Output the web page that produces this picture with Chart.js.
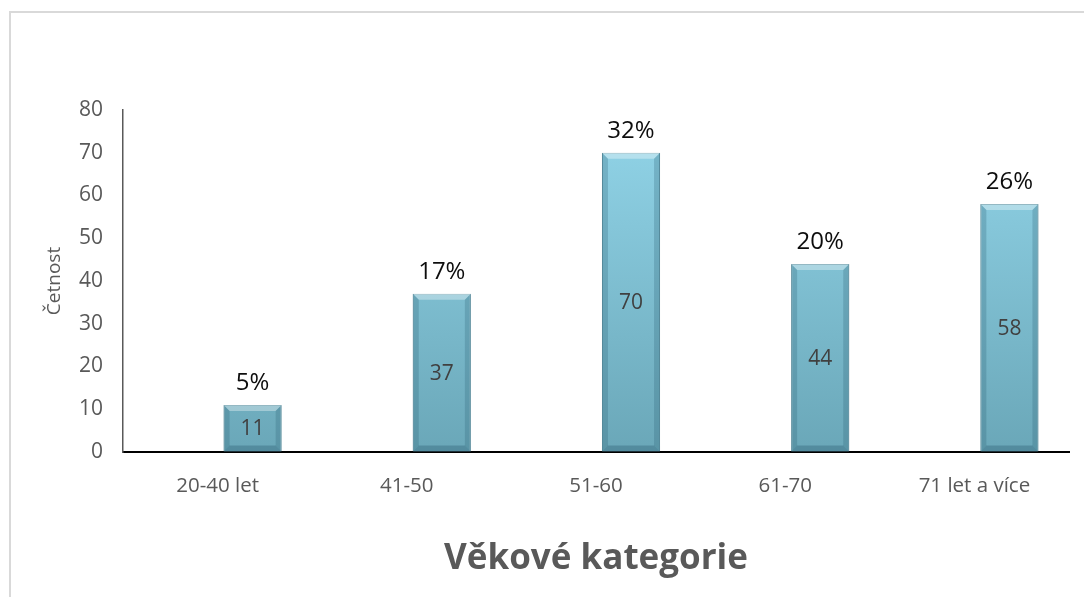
<!DOCTYPE html>
<html>
<head>
<meta charset="utf-8">
<script src="https://cdn.jsdelivr.net/npm/chart.js@4/dist/chart.umd.min.js"></script>
<style>
  html, body { margin: 0; padding: 0; background: #fff; overflow: hidden; }
  #frame { position: absolute; left: 9px; top: 11px; width: 1200px; height: 800px;
           border-top: 2px solid #d9d9d9; border-left: 2px solid #d9d9d9; }
  #wrap { position: absolute; left: 0; top: 0; width: 1084px; height: 597px; }
</style>
</head>
<body>
<div id="frame"></div>
<div id="wrap"><canvas id="myChart"></canvas></div>
<script>
const CATEGORIES = ['20-40 let', '41-50', '51-60', '61-70', '71 let a více'];
const SHARES = [0.05, 0.17, 0.32, 0.20, 0.26];
const COUNTS = [11, 37, 70, 44, 58];
const PERCENT_LABELS = ['5%', '17%', '32%', '20%', '26%'];
const Y_TICKS = [0, 10, 20, 30, 40, 50, 60, 70, 80];

const FONT = '"Open Sans", "Noto Sans", sans-serif';

function barGradient(context) {
  const chart = context.chart;
  const area = chart.chartArea;
  if (!area) return '#7fbfd3';
  const g = chart.ctx.createLinearGradient(0, area.top, 0, area.bottom);
  g.addColorStop(0, '#93d6ea');
  g.addColorStop(1, '#6aa7b8');
  return g;
}

// bevel look + labels on the visible (count) series
const barDecor = {
  id: 'barDecor',
  afterDatasetsDraw(chart) {
    const ctx = chart.ctx;
    const meta = chart.getDatasetMeta(1);
    meta.data.forEach((bar, i) => {
      const left = bar.x - bar.width / 2, right = bar.x + bar.width / 2;
      const top = bar.y, bottom = bar.base;
      const b = 6;
      ctx.save();
      ctx.fillStyle = 'rgba(255,255,255,0.35)';
      ctx.beginPath();
      ctx.moveTo(left, top); ctx.lineTo(right, top);
      ctx.lineTo(right - b, top + b); ctx.lineTo(left + b, top + b);
      ctx.closePath(); ctx.fill();
      ctx.fillStyle = 'rgba(40,90,110,0.25)';
      ctx.beginPath();
      ctx.moveTo(left, top); ctx.lineTo(left + b, top + b);
      ctx.lineTo(left + b, bottom - b); ctx.lineTo(left, bottom);
      ctx.closePath(); ctx.fill();
      ctx.beginPath();
      ctx.moveTo(right, top); ctx.lineTo(right - b, top + b);
      ctx.lineTo(right - b, bottom - b); ctx.lineTo(right, bottom);
      ctx.closePath(); ctx.fill();
      ctx.fillStyle = 'rgba(40,90,110,0.35)';
      ctx.beginPath();
      ctx.moveTo(left, bottom); ctx.lineTo(left + b, bottom - b);
      ctx.lineTo(right - b, bottom - b); ctx.lineTo(right, bottom);
      ctx.closePath(); ctx.fill();

      ctx.textAlign = 'center';
      ctx.textBaseline = 'middle';
      ctx.fillStyle = '#404040';
      ctx.font = '21px ' + FONT;
      ctx.fillText(String(COUNTS[i]), bar.x, (top + bottom) / 2 + 1);
      ctx.fillStyle = '#0d0d0d';
      ctx.font = '24px ' + FONT;
      ctx.fillText(PERCENT_LABELS[i], bar.x, top - 22);
      ctx.restore();
    });
  }
};

const ctx = document.getElementById('myChart');

new Chart(ctx, {
  type: 'bar',
  data: {
    labels: CATEGORIES,
    datasets: [{
      label: 'Podíl',
      data: SHARES,
      backgroundColor: 'rgba(0,0,0,0)',
      borderWidth: 0,
      barPercentage: 0.83,
      categoryPercentage: 0.74
    }, {
      label: 'Četnost',
      data: COUNTS,
      backgroundColor: barGradient,
      borderColor: '#5b93a4',
      borderWidth: 1,
      barPercentage: 0.83,
      categoryPercentage: 0.74
    }]
  },
  options: {
    responsive: true,
    maintainAspectRatio: false,
    animation: false,
    layout: { padding: { top: 110, right: 15, left: 0, bottom: 0 } },
    plugins: {
      legend: { display: false },
      tooltip: { enabled: false }
    },
    scales: {
      x: {
        grid: { drawOnChartArea: false, drawTicks: false },
        border: { display: true, color: '#000', width: 2 },
        ticks: { color: '#595959', font: { family: FONT, size: 20.5 }, padding: 22 },
        title: {
          display: true,
          text: 'Věkové kategorie',
          color: '#595959',
          font: { family: FONT, size: 35, weight: 'bold' },
          padding: { top: 0, bottom: 17 }
        },
        afterFit(scale) { scale.height = 145; }
      },
      y: {
        min: 0,
        max: 80,
        afterBuildTicks(scale) { scale.ticks = Y_TICKS.map(v => ({ value: v })); },
        grid: { drawOnChartArea: false, drawTicks: false },
        border: { display: true, color: '#595959', width: 1.5 },
        ticks: { color: '#595959', font: { family: FONT, size: 21 }, padding: 20 },
        title: {
          display: true,
          text: 'Četnost',
          color: '#595959',
          font: { family: FONT, size: 19 },
          padding: { top: 43, bottom: 0 }
        },
        afterFit(scale) { scale.width = 123; }
      }
    }
  },
  plugins: [barDecor]
});
</script>
</body>
</html>
